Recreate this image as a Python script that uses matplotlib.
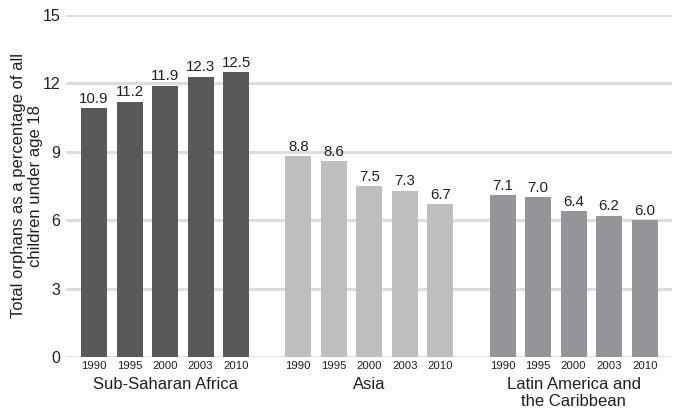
import numpy as np
import matplotlib
matplotlib.use("Agg")
import matplotlib.pyplot as plt

plt.rcParams['font.family'] = ['Liberation Sans', 'DejaVu Sans']

# data
regions = ['Sub-Saharan Africa', 'Asia', 'Latin America and\nthe Caribbean']
years = ['1990', '1995', '2000', '2003', '2010']
ssa = [10.9, 11.2, 11.9, 12.3, 12.5]
asia = [8.8, 8.6, 7.5, 7.3, 6.7]
latam = [7.1, 7.0, 6.4, 6.2, 6.0]
series = [ssa, asia, latam]
colors = ['#58595b', '#bcbec0', '#939598']

fig = plt.figure(figsize=(6.73, 4.16), dpi=100)
ax = fig.add_axes([0.098, 0.142, 0.9, 0.822])

group_step = 5.75
xs_all, labels_all = [], []
for g, vals in enumerate(series):
    xs = g * group_step + np.arange(len(vals))
    ax.bar(xs, vals, width=0.73, color=colors[g], zorder=3)
    for x, v in zip(xs, vals):
        ax.text(x, v + 0.1, f'{v:.1f}', ha='center', va='bottom',
                fontsize=10.8, color='#231f20')
    ax.text(xs.mean(), -0.058, regions[g], transform=ax.get_xaxis_transform(),
            ha='center', va='top', fontsize=12, color='#231f20',
            linespacing=1.2)
    xs_all.extend(xs)
    labels_all.extend(years)

ax.set_xticks(xs_all)
ax.set_xticklabels(labels_all, fontsize=8.2, color='#231f20')
ax.set_xlim(-0.79, 2 * group_step + 4 + 0.76)
ax.set_ylim(0, 15)
ax.set_yticks([0, 3, 6, 9, 12, 15])
ax.tick_params(axis='y', labelsize=11.5, length=0, pad=4, colors='#231f20')
ax.tick_params(axis='x', length=0, pad=3)
ax.yaxis.grid(True, color='#dcdddf', linewidth=2.2)
ax.set_axisbelow(True)
for s in ax.spines.values():
    s.set_visible(False)
ax.set_ylabel('Total orphans as a percentage of all\nchildren under age 18',
              fontsize=12, color='#231f20', linespacing=1.15)
ax.yaxis.set_label_coords(-0.038, 0.5)

fig.savefig('out.png', dpi=100)
